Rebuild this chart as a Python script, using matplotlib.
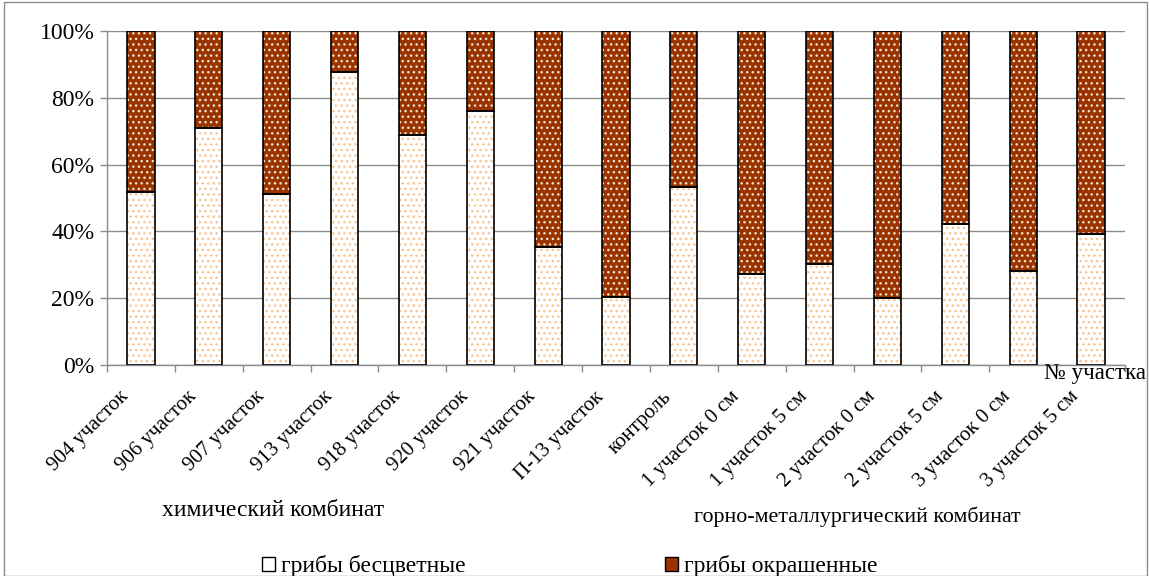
import matplotlib
matplotlib.use("Agg")
import matplotlib.pyplot as plt
from matplotlib.patches import Rectangle, Patch
from matplotlib.transforms import ScaledTranslation
import numpy as np

plt.rcParams['font.family'] = ['Liberation Serif', 'DejaVu Serif']

categories = ["904 участок", "906 участок", "907 участок", "913 участок",
              "918 участок", "920 участок", "921 участок", "П-13 участок",
              "контроль", "1 участок 0 см", "1 участок 5 см", "2 участок 0 см",
              "2 участок 5 см", "3 участок 0 см", "3 участок 5 см"]
colorless = [51.7, 70.9, 51.1, 87.6, 68.9, 75.9, 35.3, 20.4,
             53.3, 27.2, 30.2, 20.0, 42.2, 28.2, 39.2]
colored = [100 - v for v in colorless]
series_names = ["грибы бесцветные", "грибы окрашенные"]
group_labels = ["химический комбинат", "горно-металлургический комбинат"]
yticks = [0, 20, 40, 60, 80, 100]

fig = plt.figure(figsize=(11.49, 5.76), dpi=100)
ax = fig.add_axes([107/1149, 1-365/576, (1125-107)/1149, 334/576])

x = np.arange(len(categories))
w = 0.4
light_face, light_dots = "white", "#F8C392"
dark_face, dark_dots = "#993300", "#F2E0D0"

# patterned fills
ax.bar(x, colorless, w, color=light_face, edgecolor=light_dots, hatch="...",
       linewidth=0, zorder=2)
ax.bar(x, colored, w, bottom=colorless, color=dark_face, edgecolor=dark_dots,
       hatch="...", linewidth=0, zorder=2)
# outlines
ax.bar(x, colorless, w, fill=False, edgecolor="black", linewidth=1.2, zorder=3)
ax.bar(x, colored, w, bottom=colorless, fill=False, edgecolor="black",
       linewidth=1.2, zorder=3)

ax.set_xlim(-0.5, len(categories) - 0.5)
ax.set_ylim(0, 100)
ax.set_yticks(yticks)
ax.set_yticklabels([f"{v}%" for v in yticks], fontsize=17)
ax.yaxis.grid(True, color="#8c8c8c", linewidth=1)
ax.set_axisbelow(True)

ax.set_xticks(x)
ax.set_xticklabels(categories, rotation=45, ha="right", va="center",
                   rotation_mode="anchor", fontsize=15)
ax.tick_params(axis="x", which="major", length=0, pad=21)
shift = ScaledTranslation(-15/100, 0, fig.dpi_scale_trans)
for lab in ax.get_xticklabels():
    lab.set_transform(lab.get_transform() + shift)
ax.set_xticks(np.arange(len(categories) + 1) - 0.5, minor=True)
ax.tick_params(axis="x", which="minor", length=5, color="#8c8c8c", width=1)
ax.tick_params(axis="y", length=5, color="#8c8c8c", width=1, pad=4)

for s in ["top", "right"]:
    ax.spines[s].set_visible(False)
for s in ["left", "bottom"]:
    ax.spines[s].set_color("#8c8c8c")
    ax.spines[s].set_linewidth(1)

fig.text(273/1149, 1-510/576, group_labels[0], fontsize=17, ha="center", va="center")
fig.text(857/1149, 1-517/576, group_labels[1], fontsize=15.8, ha="center", va="center")
fig.text(1146/1149, 1-373/576, "№ участка", fontsize=16.5, ha="right", va="center")

handles = [Patch(facecolor=light_face, edgecolor="black", linewidth=1),
           Patch(facecolor=dark_face, edgecolor="black", linewidth=1)]
for h, name, x0 in zip(handles, series_names, [262, 665]):
    leg = fig.legend([h], [name], loc="center left",
                     bbox_to_anchor=(x0/1149, 1-566/576),
                     frameon=False, fontsize=17, borderpad=0, borderaxespad=0,
                     handlelength=0.55, handleheight=0.55, handletextpad=0.25)

fig.patches.append(Rectangle((4/1149, 0.5/576), 1143/1149, 574/576,
                             transform=fig.transFigure, fill=False,
                             edgecolor="#8c8c8c", linewidth=1))

fig.savefig("out.png", dpi=100)
